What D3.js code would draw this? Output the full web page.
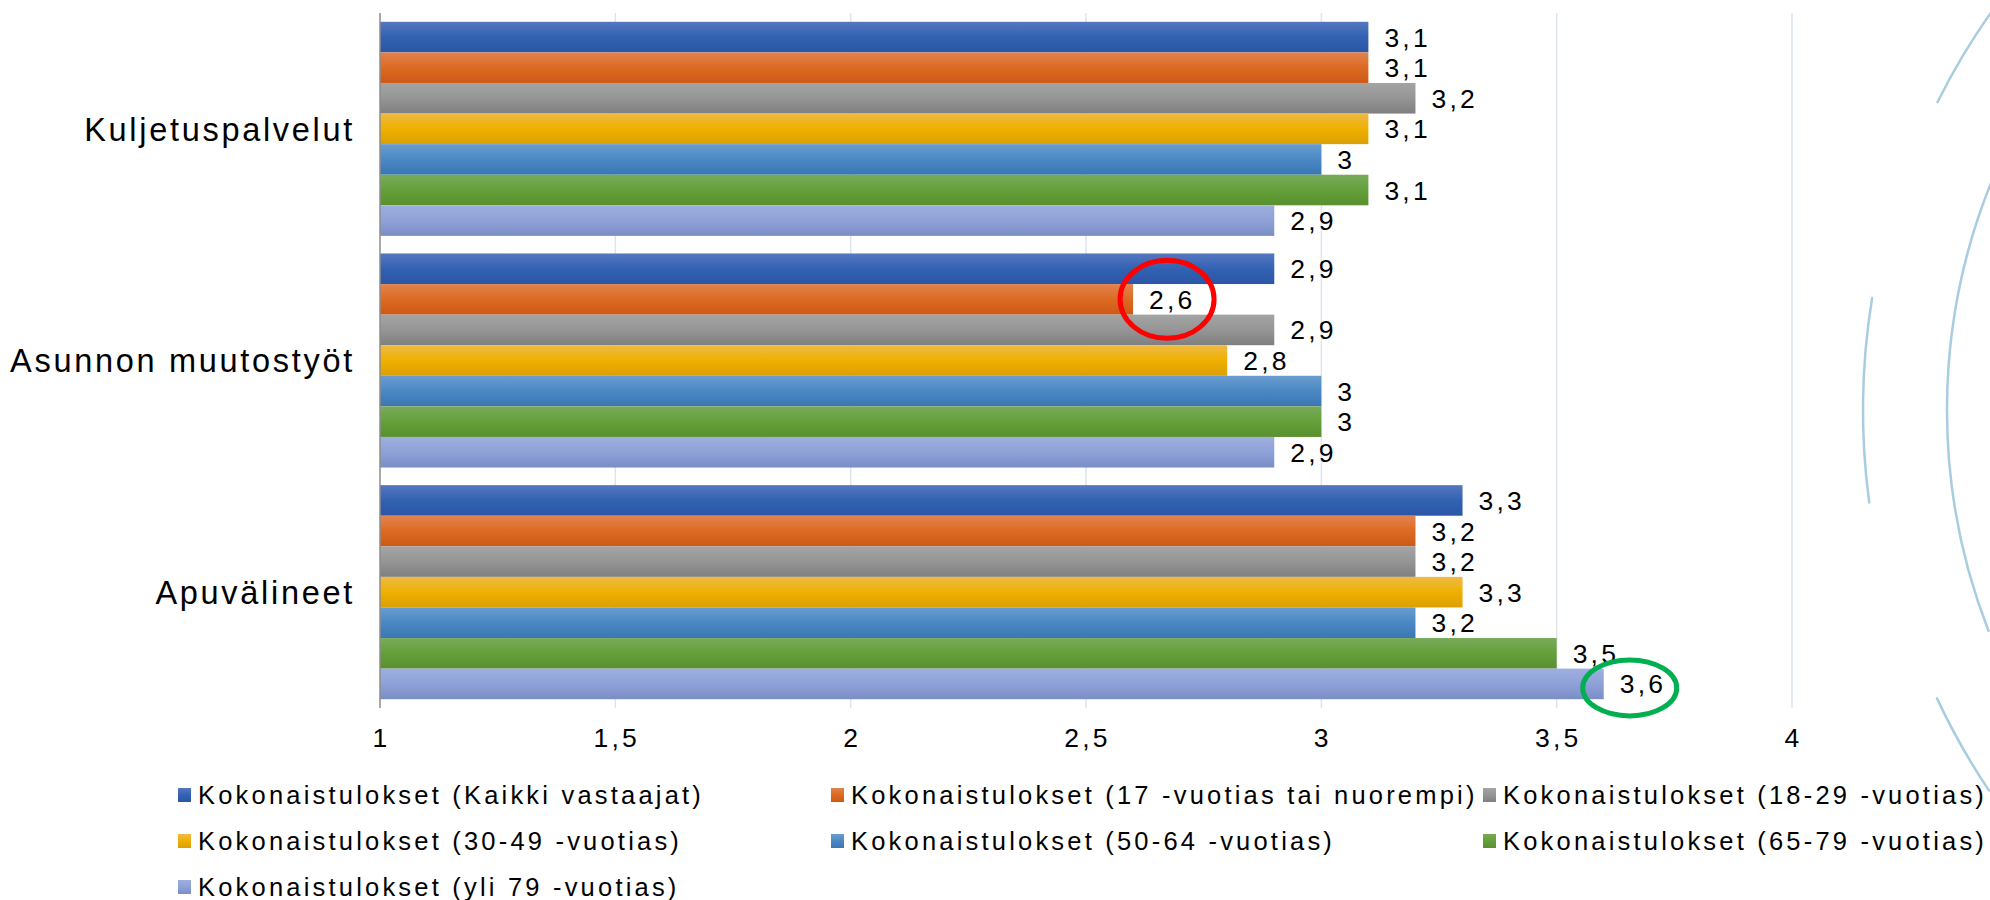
<!DOCTYPE html>
<html>
<head>
<meta charset="utf-8">
<script src="https://cdn.jsdelivr.net/npm/d3@7/dist/d3.min.js"></script>
<style>
  body { margin: 0; background: #fff; }
  svg { display: block; font-family: "Liberation Sans", Arial, sans-serif; }
</style>
</head>
<body>
<div id="chart"></div>
<script>
let categories = ["Kuljetuspalvelut", "Asunnon muutostyöt", "Apuvälineet"];

let seriesNames = [
  "Kokonaistulokset (Kaikki vastaajat)",
  "Kokonaistulokset (17 -vuotias tai nuorempi)",
  "Kokonaistulokset (18-29 -vuotias)",
  "Kokonaistulokset (30-49 -vuotias)",
  "Kokonaistulokset (50-64 -vuotias)",
  "Kokonaistulokset (65-79 -vuotias)",
  "Kokonaistulokset (yli 79 -vuotias)"
];

// one array per series, values in category order
let allValues = [3.1, 2.9, 3.3];
let under17Values = [3.1, 2.6, 3.2];
let age18to29Values = [3.2, 2.9, 3.2];
let age30to49Values = [3.1, 2.8, 3.3];
let age50to64Values = [3.0, 3.0, 3.2];
let age65to79Values = [3.1, 3.0, 3.5];
let over79Values = [2.9, 2.9, 3.6];

let seriesValues = [allValues, under17Values, age18to29Values, age30to49Values,
  age50to64Values, age65to79Values, over79Values];

let xTicks = [1, 1.5, 2, 2.5, 3, 3.5, 4];

// gradient colours: top, middle, bottom
let seriesColors = [
  ["#5677c0", "#3262b2", "#2c55a6"],
  ["#e2834f", "#dc6a22", "#cc5a17"],
  ["#a4a4a4", "#959595", "#7f7f7f"],
  ["#eeba45", "#efb000", "#dc9f00"],
  ["#6a9dcf", "#4a88c4", "#3a76b2"],
  ["#79aa5a", "#64a03a", "#58902e"],
  ["#9eaedf", "#8ea2d8", "#7a8ec6"]
];

// highlighted labels: [category index, series index]
let highlights = [
  { cat: 1, series: 1, color: "#ff0000", rx: 47, ry: 39, dx: 34, dy: 0 },
  { cat: 2, series: 6, color: "#00b050", rx: 47, ry: 28, dx: 26, dy: 4 }
];

let svgWidth = 1990;
let svgHeight = 900;

let plot = { left: 380, right: 1792, top: 13, bottom: 708 };

let svg = d3.select("#chart")
  .append("svg")
  .attr("width", svgWidth)
  .attr("height", svgHeight);

let defs = svg.append("defs");
seriesColors.forEach((c, i) => {
  let g = defs.append("linearGradient")
    .attr("id", "grad" + i)
    .attr("x1", 0).attr("y1", 0)
    .attr("x2", 0).attr("y2", 1);
  g.append("stop").attr("offset", "0%").attr("stop-color", c[0]);
  g.append("stop").attr("offset", "50%").attr("stop-color", c[1]);
  g.append("stop").attr("offset", "100%").attr("stop-color", c[2]);
});

// background decoration arcs on the right
let arcCx = 2555, arcCy = 410;
let decoArcs = [
  { r: 608, a0: 2.770, a1: 3.528 },
  { r: 692, a0: 3.0075, a1: 3.304 },
  { r: 690, a0: 3.604, a1: 3.76 },
  { r: 682, a0: 2.55, a1: 2.705 }
];
svg.append("g")
  .selectAll("path")
  .data(decoArcs)
  .enter()
  .append("path")
  .attr("d", d => {
    let p = d3.path();
    p.arc(arcCx, arcCy, d.r, d.a0, d.a1);
    return p.toString().replace(/^L/, "M");
  })
  .attr("fill", "none")
  .attr("stroke", "#a9cde0")
  .attr("stroke-width", 2.5)
  .attr("stroke-linecap", "round");

let x = d3.scaleLinear()
  .domain([1, 4])
  .range([plot.left, plot.right]);

let y0 = d3.scaleBand()
  .domain(categories)
  .range([plot.top, plot.bottom])
  .paddingInner(0.076)
  .paddingOuter(0.038);

let y1 = d3.scaleBand()
  .domain(d3.range(seriesNames.length))
  .range([0, y0.bandwidth()]);

// gridlines
svg.append("g")
  .selectAll("line")
  .data(xTicks.slice(1))
  .enter()
  .append("line")
  .attr("x1", d => x(d)).attr("x2", d => x(d))
  .attr("y1", plot.top).attr("y2", plot.bottom)
  .attr("stroke", "#dde4ee")
  .attr("stroke-width", 1.5);

let fmt = v => String(v).replace(".", ",");

// bars
let groups = svg.append("g")
  .selectAll("g")
  .data(categories)
  .enter()
  .append("g")
  .attr("transform", d => "translate(0," + y0(d) + ")");

groups.selectAll("rect")
  .data((d, ci) => seriesValues.map((vals, si) => ({ si: si, v: vals[ci] })))
  .enter()
  .append("rect")
  .attr("x", x(1))
  .attr("y", d => y1(d.si))
  .attr("width", d => x(d.v) - x(1))
  .attr("height", y1.bandwidth())
  .attr("fill", d => "url(#grad" + d.si + ")");

groups.selectAll("text")
  .data((d, ci) => seriesValues.map((vals, si) => ({ si: si, v: vals[ci] })))
  .enter()
  .append("text")
  .attr("x", d => x(d.v) + 16)
  .attr("y", d => y1(d.si) + y1.bandwidth() / 2)
  .attr("dy", "0.36em")
  .attr("font-size", 26.5)
  .attr("letter-spacing", 3.2)
  .attr("fill", "#000")
  .text(d => fmt(d.v));

// value axis line
svg.append("line")
  .attr("x1", x(1)).attr("x2", x(1))
  .attr("y1", plot.top).attr("y2", plot.bottom)
  .attr("stroke", "#8c8c8c")
  .attr("stroke-width", 1.5);

// x tick labels
svg.append("g")
  .selectAll("text")
  .data(xTicks)
  .enter()
  .append("text")
  .attr("x", d => x(d) + 1.5)
  .attr("y", 737)
  .attr("dy", "0.36em")
  .attr("text-anchor", "middle")
  .attr("font-size", 26.5)
  .attr("letter-spacing", 3.2)
  .text(d => fmt(d));

// category labels
svg.append("g")
  .selectAll("text")
  .data(categories)
  .enter()
  .append("text")
  .attr("x", 355)
  .attr("y", d => y0(d) + y0.bandwidth() / 2)
  .attr("dy", "0.36em")
  .attr("text-anchor", "end")
  .attr("font-size", 32.5)
  .attr("letter-spacing", 2.7)
  .text(d => d);

// highlight ellipses
svg.append("g")
  .selectAll("ellipse")
  .data(highlights)
  .enter()
  .append("ellipse")
  .attr("cx", d => x(seriesValues[d.series][d.cat]) + d.dx)
  .attr("cy", d => y0(categories[d.cat]) + y1(d.series) + y1.bandwidth() / 2 + d.dy)
  .attr("rx", d => d.rx)
  .attr("ry", d => d.ry)
  .attr("fill", "none")
  .attr("stroke", d => d.color)
  .attr("stroke-width", 5);

// legend
let legendCols = [178, 831, 1483];
let legendRows = [795, 841, 887];

let legend = svg.append("g")
  .selectAll("g")
  .data(seriesNames)
  .enter()
  .append("g")
  .attr("transform", (d, i) => "translate(" + legendCols[i % 3] + "," + legendRows[Math.floor(i / 3)] + ")");

legend.append("rect")
  .attr("x", 0)
  .attr("y", -7)
  .attr("width", 13)
  .attr("height", 14)
  .attr("fill", (d, i) => "url(#grad" + i + ")");

legend.append("text")
  .attr("x", 20)
  .attr("y", 0)
  .attr("dy", "0.36em")
  .attr("font-size", 25.5)
  .attr("letter-spacing", 3.2)
  .text(d => d);
</script>
</body>
</html>
